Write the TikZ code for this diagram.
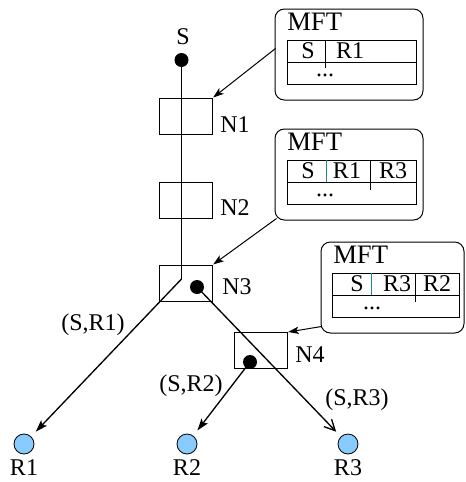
\documentclass[tikz,border=0pt]{standalone}
\usepackage{fontspec}
\setmainfont{Liberation Serif}
\usetikzlibrary{arrows.meta,calc}
\definecolor{rcvfill}{HTML}{88CCFF}
\definecolor{divteal}{HTML}{1A8A8A}
\begin{document}
\begin{tikzpicture}[x=0.75pt,y=-0.75pt,
  font=\fontsize{18}{21}\selectfont,
  nbox/.style={draw, line width=0.75pt, inner sep=0pt, minimum width=40pt, minimum height=27pt},
  dotnode/.style={circle, fill=black, inner sep=0pt, minimum size=10.5pt},
  rcv/.style={circle, draw, line width=0.6pt, fill=rcvfill, inner sep=0pt, minimum size=15pt},
  mftbox/.style={draw, line width=0.75pt, rounded corners=7pt, inner sep=0pt, minimum height=68.25pt},
  mainline/.style={line width=1pt},
  fwd/.style={mainline, -{Stealth[length=9pt,width=6pt,inset=2pt]}, shorten >=5pt},
  openfwd/.style={mainline, -{Straight Barb[length=8pt,width=8pt]}, shorten >=5pt},
  ptr/.style={line width=0.75pt, -{Stealth[length=8pt,width=5.5pt,inset=2pt]}},
  tline/.style={line width=0.75pt},
  lbl/.style={inner sep=0pt},
  mftlbl/.style={inner sep=0pt, anchor=west, font=\fontsize{20}{23}\selectfont}
]
\useasboundingbox (0,0) rectangle (465,482);

% source
\node[lbl] (Slbl) at (183,37) {S};
\node[dotnode] (S) at (181.5,60) {};

% router boxes
\node[nbox] (N1) at (186,116) {};
\node[nbox] (N2) at (186,200.5) {};
\node[nbox] (N3) at (186,283) {};
\node[nbox] (N4) at (261,350.5) {};
\node[lbl, anchor=west] (N1l) at (220,125) {N1};
\node[lbl, anchor=west] (N2l) at (220,208) {N2};
\node[lbl, anchor=west] (N3l) at (222,287) {N3};
\node[lbl, anchor=west] (N4l) at (295,355) {N4};

% dots inside boxes
\node[dotnode] (D3) at (197,287) {};
\node[dotnode] (D4) at (250,362) {};
\coordinate (bend) at (181.5,279);

% receivers
\node[rcv] (R1) at (24,444) {};
\node[rcv] (R2) at (187,444) {};
\node[rcv] (R3) at (348,444) {};
\node[lbl] (R1l) at (24,468) {R1};
\node[lbl] (R2l) at (187,468) {R2};
\node[lbl] (R3l) at (348,468) {R3};

% tree
\draw[mainline] (S.center) -- (bend);
\draw[fwd] (bend) -- (R1);
\draw[openfwd] (D3.center) -- (R3);
\draw[fwd] (D4.center) -- (R2);

\node[lbl] (l1) at (93,325) {(S,R1)};
\node[lbl] (l2) at (191,386) {(S,R2)};
\node[lbl] (l3) at (357,400) {(S,R3)};

% MFT boxes
\node[mftbox, minimum width=111pt] (M1) at (349,54.5) {};
\node[mftbox, minimum width=111pt] (M2) at (349,174.5) {};
\node[mftbox, minimum width=107.25pt] (M3) at (392.5,287.5) {};

% table 1
\begin{scope}[shift={(275,9)}]
  \node[mftlbl] (t1) at (12,13) {MFT};
  \draw[tline] (12,31) rectangle (141,75);
  \draw[tline] (12,53) -- (141,53);
  \draw[tline] (50,31) -- (50,59);
  \node[lbl] (t1a) at (33,42) {S};
  \node[lbl] (t1b) at (75,42) {R1};
  \node[lbl] (t1c) at (50,66) {...};
\end{scope}

% table 2
\begin{scope}[shift={(275,129)}]
  \node[mftlbl] (t2) at (12,13) {MFT};
  \draw[tline] (12,31) rectangle (141,75);
  \draw[tline] (12,53) -- (141,53);
  \draw[tline, divteal] (51,31) -- (51,53);
  \draw[tline] (95,31) -- (95,61);
  \node[lbl] (t2a) at (33,42) {S};
  \node[lbl] (t2b) at (72,42) {R1};
  \node[lbl] (t2c) at (118,42) {R3};
  \node[lbl] (t2d) at (50,66) {...};
\end{scope}

% table 3
\begin{scope}[shift={(321,242)}]
  \node[mftlbl] (t3) at (12,13) {MFT};
  \draw[tline] (11,31) rectangle (138,75);
  \draw[tline] (11,53) -- (138,53);
  \draw[tline, divteal] (50,31) -- (50,53);
  \draw[tline] (94,31) -- (94,60);
  \node[lbl] (t3a) at (36,42) {S};
  \node[lbl] (t3b) at (76,42) {R3};
  \node[lbl] (t3c) at (116,42) {R2};
  \node[lbl] (t3d) at (51,66) {...};
\end{scope}

% pointers from MFTs
\draw[ptr] ($(M1.west)+(1,-6)$) -- (N1.north east);
\draw[ptr] ($(M2.south west)+(2,-2)$) -- (N3.north east);
\draw[ptr] ($(M3.south west)+(1,-7)$) -- (N4.north east);
\end{tikzpicture}
\end{document}
